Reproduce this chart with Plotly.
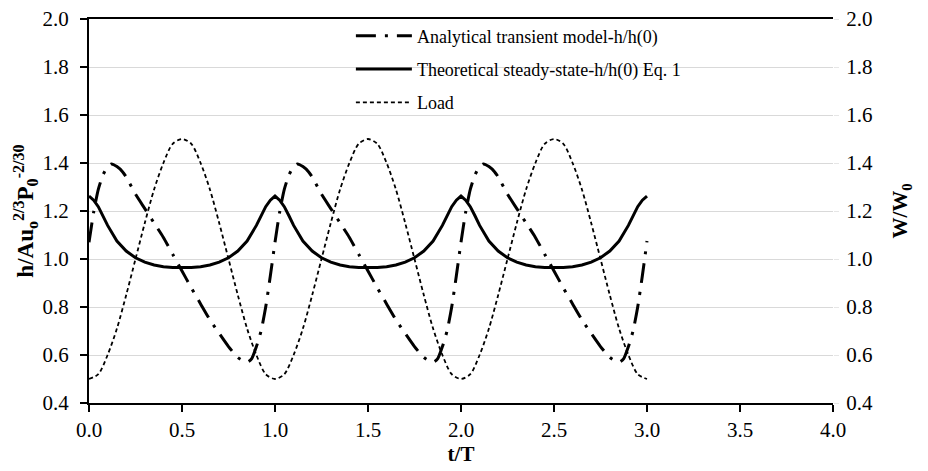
import plotly.graph_objects as go

# ---------------- data ----------------
load_t = [0.00, 0.05, 0.10, 0.15, 0.20, 0.25, 0.30, 0.35, 0.40, 0.45,
          0.50, 0.55, 0.60, 0.65, 0.70, 0.75, 0.80, 0.85, 0.90, 0.95,
          1.00, 1.05, 1.10, 1.15, 1.20, 1.25, 1.30, 1.35, 1.40, 1.45,
          1.50, 1.55, 1.60, 1.65, 1.70, 1.75, 1.80, 1.85, 1.90, 1.95,
          2.00, 2.05, 2.10, 2.15, 2.20, 2.25, 2.30, 2.35, 2.40, 2.45,
          2.50, 2.55, 2.60, 2.65, 2.70, 2.75, 2.80, 2.85, 2.90, 2.95, 3.00]
load_w = [0.50, 0.52, 0.60, 0.71, 0.85, 1.00, 1.15, 1.29, 1.40, 1.48,
          1.50, 1.48, 1.40, 1.29, 1.15, 1.00, 0.85, 0.71, 0.60, 0.52,
          0.50, 0.52, 0.60, 0.71, 0.85, 1.00, 1.15, 1.29, 1.40, 1.48,
          1.50, 1.48, 1.40, 1.29, 1.15, 1.00, 0.85, 0.71, 0.60, 0.52,
          0.50, 0.52, 0.60, 0.71, 0.85, 1.00, 1.15, 1.29, 1.40, 1.48,
          1.50, 1.48, 1.40, 1.29, 1.15, 1.00, 0.85, 0.71, 0.60, 0.52, 0.50]

steady_t = [0.000, 0.025, 0.050, 0.075, 0.100, 0.150, 0.200, 0.250, 0.300, 0.350, 0.400, 0.450,
            0.500, 0.550, 0.600, 0.650, 0.700, 0.750, 0.800, 0.850, 0.900, 0.925, 0.950, 0.975,
            1.000, 1.025, 1.050, 1.075, 1.100, 1.150, 1.200, 1.250, 1.300, 1.350, 1.400, 1.450,
            1.500, 1.550, 1.600, 1.650, 1.700, 1.750, 1.800, 1.850, 1.900, 1.925, 1.950, 1.975,
            2.000, 2.025, 2.050, 2.075, 2.100, 2.150, 2.200, 2.250, 2.300, 2.350, 2.400, 2.450,
            2.500, 2.550, 2.600, 2.650, 2.700, 2.750, 2.800, 2.850, 2.900, 2.925, 2.950, 2.975,
            3.000]
steady_h = [1.262, 1.245, 1.218, 1.180, 1.140, 1.075, 1.033, 1.005, 0.987, 0.975, 0.968, 0.965,
            0.964, 0.965, 0.968, 0.975, 0.987, 1.005, 1.033, 1.075, 1.140, 1.180, 1.218, 1.245,
            1.262, 1.245, 1.218, 1.180, 1.140, 1.075, 1.033, 1.005, 0.987, 0.975, 0.968, 0.965,
            0.964, 0.965, 0.968, 0.975, 0.987, 1.005, 1.033, 1.075, 1.140, 1.180, 1.218, 1.245,
            1.262, 1.245, 1.218, 1.180, 1.140, 1.075, 1.033, 1.005, 0.987, 0.975, 0.968, 0.965,
            0.964, 0.965, 0.968, 0.975, 0.987, 1.005, 1.033, 1.075, 1.140, 1.180, 1.218, 1.245,
            1.262]

trans_t = [0.000, 0.025, 0.050, 0.075, 0.100, 0.120, 0.150, 0.180, 0.200, 0.250, 0.300, 0.350,
           0.400, 0.450, 0.500, 0.550, 0.600, 0.650, 0.700, 0.750, 0.800, 0.830, 0.855, 0.875,
           0.900, 0.925, 0.950, 0.975,
           1.000, 1.025, 1.050, 1.075, 1.100, 1.120, 1.150, 1.180, 1.200, 1.250, 1.300, 1.350,
           1.400, 1.450, 1.500, 1.550, 1.600, 1.650, 1.700, 1.750, 1.800, 1.830, 1.855, 1.875,
           1.900, 1.925, 1.950, 1.975,
           2.000, 2.025, 2.050, 2.075, 2.100, 2.120, 2.150, 2.180, 2.200, 2.250, 2.300, 2.350,
           2.400, 2.450, 2.500, 2.550, 2.600, 2.650, 2.700, 2.750, 2.800, 2.830, 2.855, 2.875,
           2.900, 2.925, 2.950, 2.975, 3.000]
trans_h = [1.070, 1.195, 1.290, 1.350, 1.385, 1.396, 1.385, 1.364, 1.342, 1.270, 1.210, 1.150,
           1.090, 1.020, 0.950, 0.880, 0.813, 0.747, 0.690, 0.635, 0.590, 0.575, 0.572, 0.585,
           0.635, 0.700, 0.800, 0.930,
           1.070, 1.195, 1.290, 1.350, 1.385, 1.396, 1.385, 1.364, 1.342, 1.270, 1.210, 1.150,
           1.090, 1.020, 0.950, 0.880, 0.813, 0.747, 0.690, 0.635, 0.590, 0.575, 0.572, 0.585,
           0.635, 0.700, 0.800, 0.930,
           1.070, 1.195, 1.290, 1.350, 1.385, 1.396, 1.385, 1.364, 1.342, 1.270, 1.210, 1.150,
           1.090, 1.020, 0.950, 0.880, 0.813, 0.747, 0.690, 0.635, 0.590, 0.575, 0.572, 0.585,
           0.635, 0.700, 0.800, 0.930, 1.075]

x_ticks = [0.0, 0.5, 1.0, 1.5, 2.0, 2.5, 3.0, 3.5, 4.0]
y_ticks = [0.4, 0.6, 0.8, 1.0, 1.2, 1.4, 1.6, 1.8, 2.0]

name_trans = "Analytical transient model-h/h(0)"
name_steady = "Theoretical steady-state-h/h(0) Eq. 1"
name_load = "Load"

# ---------------- figure ----------------
FONT = "Liberation Serif, Times New Roman, serif"

fig = go.Figure()
fig.add_trace(go.Scatter(
    x=trans_t, y=trans_h, name=name_trans, mode="lines", legendgroup="a",
    line=dict(color="black", width=3, dash="20px,9px,3px,9px", shape="spline", smoothing=0.6),
))
fig.add_trace(go.Scatter(
    x=steady_t, y=steady_h, name=name_steady, mode="lines", legendgroup="b",
    line=dict(color="black", width=3),
))
fig.add_trace(go.Scatter(
    x=load_t, y=load_w, name=name_load, mode="lines", yaxis="y2", legendgroup="c",
    line=dict(color="black", width=1.8, dash="4px,3px", shape="spline", smoothing=0.8),
))

tickfont = dict(family=FONT, size=21, color="black")
titlefont = dict(family=FONT, size=21, color="black", weight="bold")
ytitlefont = dict(family=FONT, size=23, color="black", weight="bold")

fig.update_layout(
    width=928, height=471,
    margin=dict(l=81, r=103, t=11, b=76, autoexpand=False),
    paper_bgcolor="white", plot_bgcolor="white",
    font=dict(family=FONT, size=17, color="black"),
    showlegend=True,
    legend=dict(
        x=0.352, y=1.004, xanchor="left", yanchor="top",
        bgcolor="rgba(255,255,255,0)", borderwidth=0,
        font=dict(family=FONT, size=18, color="black"),
        tracegroupgap=7, itemwidth=56,
    ),
    xaxis=dict(
        range=[0, 4], tickvals=x_ticks, ticktext=[f"{v:.1f}" for v in x_ticks],
        showgrid=False, zeroline=False, automargin=False, ticklabeloverflow="allow",
        showline=True, linecolor="black", linewidth=2, mirror=True,
        ticks="outside", ticklen=7, tickwidth=2, tickcolor="black",
        tickfont=tickfont,
        title=dict(text="t/T", font=titlefont, standoff=4),
    ),
    yaxis=dict(
        range=[0.4, 2.0], tickvals=y_ticks, ticktext=[f"{v:.1f}" for v in y_ticks],
        showgrid=True, gridcolor="#d9d9d9", gridwidth=1, zeroline=False, automargin=False,
        ticklabeloverflow="allow",
        showline=True, linecolor="black", linewidth=2,
        ticks="outside", ticklen=7, tickwidth=2, tickcolor="black",
        tickfont=tickfont, ticklabelstandoff=7,
        title=dict(text="h/Au<sub>o</sub><sup>2/3</sup>P<sub>0</sub><sup>-2/30</sup>",
                   font=ytitlefont, standoff=2),
    ),
    yaxis2=dict(
        range=[0.4, 2.0], tickvals=y_ticks, ticktext=[f"{v:.1f}" for v in y_ticks],
        overlaying="y", side="right", showgrid=False, zeroline=False, automargin=False,
        ticklabeloverflow="allow",
        showline=False, ticks="outside", ticklen=5, tickwidth=1, tickcolor="#e6e6e6",
        tickfont=tickfont, ticklabelstandoff=3,
        title=dict(text="W/W<sub>0</sub>", font=titlefont, standoff=20),
    ),
)

fig.write_html("out.html")
